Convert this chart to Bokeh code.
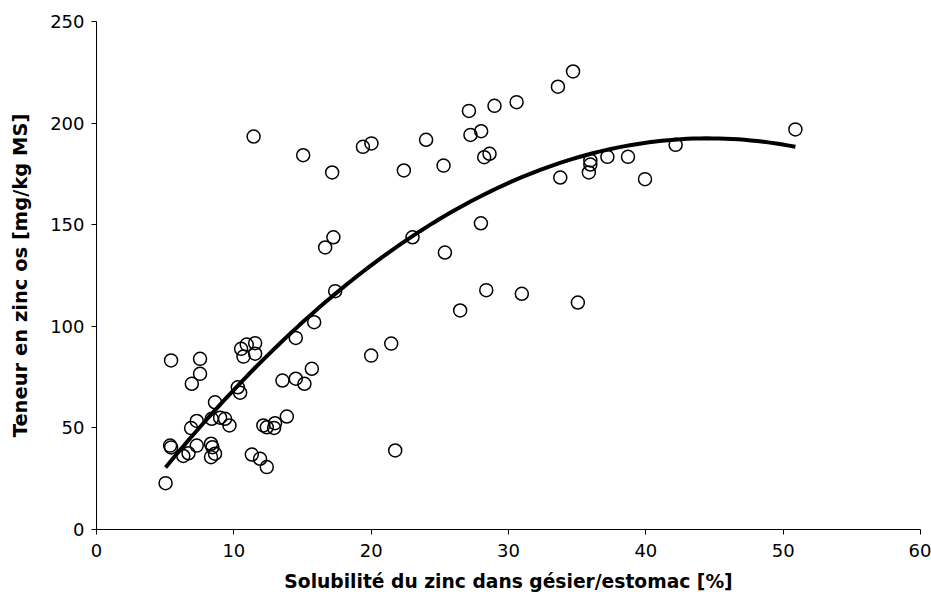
import numpy as np
from bokeh.plotting import figure
from bokeh.models import Range1d, FixedTicker
from bokeh.embed import file_html
from bokeh.resources import INLINE

# Solubilité du zinc dans gésier/estomac [%]
solubility = [5.03, 5.36, 5.43, 5.43, 6.32, 6.70, 6.89, 6.94, 7.30, 7.30,
              7.54, 7.54, 8.34, 8.44, 8.34, 8.63, 8.63, 8.39, 9.00, 9.36,
              9.68, 10.29, 10.46, 10.53, 10.70, 10.94, 11.55, 11.55, 11.44, 11.31,
              11.91, 12.40, 12.15, 12.40, 13.00, 12.93, 13.54, 13.86, 14.51, 15.14,
              14.51, 15.05, 15.68, 15.85, 16.65, 17.25, 17.16, 17.38, 19.40, 20.02,
              20.00, 21.46, 21.75, 22.38, 23.01, 24.00, 25.27, 25.37, 26.48, 27.12,
              27.23, 28.01, 27.99, 28.23, 28.38, 28.62, 28.98, 30.59, 30.97, 33.60,
              33.77, 34.70, 35.05, 35.96, 35.96, 35.85, 37.20, 38.70, 39.94, 42.17,
              50.89]
# Teneur en zinc os [mg/kg MS]
zinc_bone = [22.8, 41.3, 40.4, 83.2, 36.2, 37.5, 49.9, 71.7, 53.4, 41.3,
             76.6, 84.0, 42.2, 40.5, 35.6, 37.3, 62.6, 54.5, 55.0, 54.5,
             51.2, 70.0, 67.3, 88.9, 85.1, 91.0, 91.7, 86.5, 193.4, 36.9,
             34.8, 30.7, 51.2, 50.3, 52.3, 50.0, 73.3, 55.6, 74.2, 71.7,
             94.3, 184.2, 79.1, 102.0, 138.8, 143.8, 175.7, 117.3, 188.3, 190.0,
             85.6, 91.5, 38.9, 176.7, 143.8, 191.8, 179.1, 136.3, 107.8, 206.0,
             194.2, 196.0, 150.7, 183.2, 117.8, 184.9, 208.5, 210.3, 116.0, 217.9,
             173.2, 225.4, 111.7, 181.6, 179.6, 175.7, 183.4, 183.4, 172.4, 189.3,
             196.9]

x_ticks = [0, 10, 20, 30, 40, 50, 60]
y_ticks = [0, 50, 100, 150, 200, 250]

# quadratic trend line fitted to the data
coef = np.polyfit(solubility, zinc_bone, 2)
xs = np.linspace(min(solubility), max(solubility), 100)
ys = np.polyval(coef, xs)

p = figure(width=931, height=594, output_backend="svg", toolbar_location=None,
           x_range=Range1d(0, 60), y_range=Range1d(0, 250),
           min_border_left=96, min_border_right=11, min_border_top=21, min_border_bottom=65)
p.outline_line_color = None
p.grid.visible = False
p.background_fill_color = "white"

p.line(xs, ys, line_color="black", line_width=4)
p.scatter(solubility, zinc_bone, size=13, fill_color=None, line_color="black", line_width=1.5)

font = "DejaVu Sans"
for ax, ticks in ((p.xaxis, x_ticks), (p.yaxis, y_ticks)):
    ax.ticker = FixedTicker(ticks=ticks)
    ax.minor_tick_line_color = None
    ax.major_tick_in = 0
    ax.major_tick_out = 5
    ax.axis_line_color = "black"
    ax.major_tick_line_color = "black"
    ax.major_label_text_font = font
    ax.major_label_text_font_size = "18px"
    ax.major_label_text_color = "black"
    ax.axis_label_text_font = font
    ax.axis_label_text_font_style = "bold"
    ax.axis_label_text_color = "black"

p.xaxis.axis_label = "Solubilité du zinc dans gésier/estomac [%]"
p.yaxis.axis_label = "Teneur en zinc os [mg/kg MS]"
p.xaxis.axis_label_text_font_size = "18.7px"
p.yaxis.axis_label_text_font_size = "19.5px"
p.xaxis.major_label_standoff = 9
p.yaxis.major_label_standoff = 7
p.xaxis.axis_label_standoff = 11
p.yaxis.axis_label_standoff = 15

open("out.html", "w").write(file_html(p, INLINE))
